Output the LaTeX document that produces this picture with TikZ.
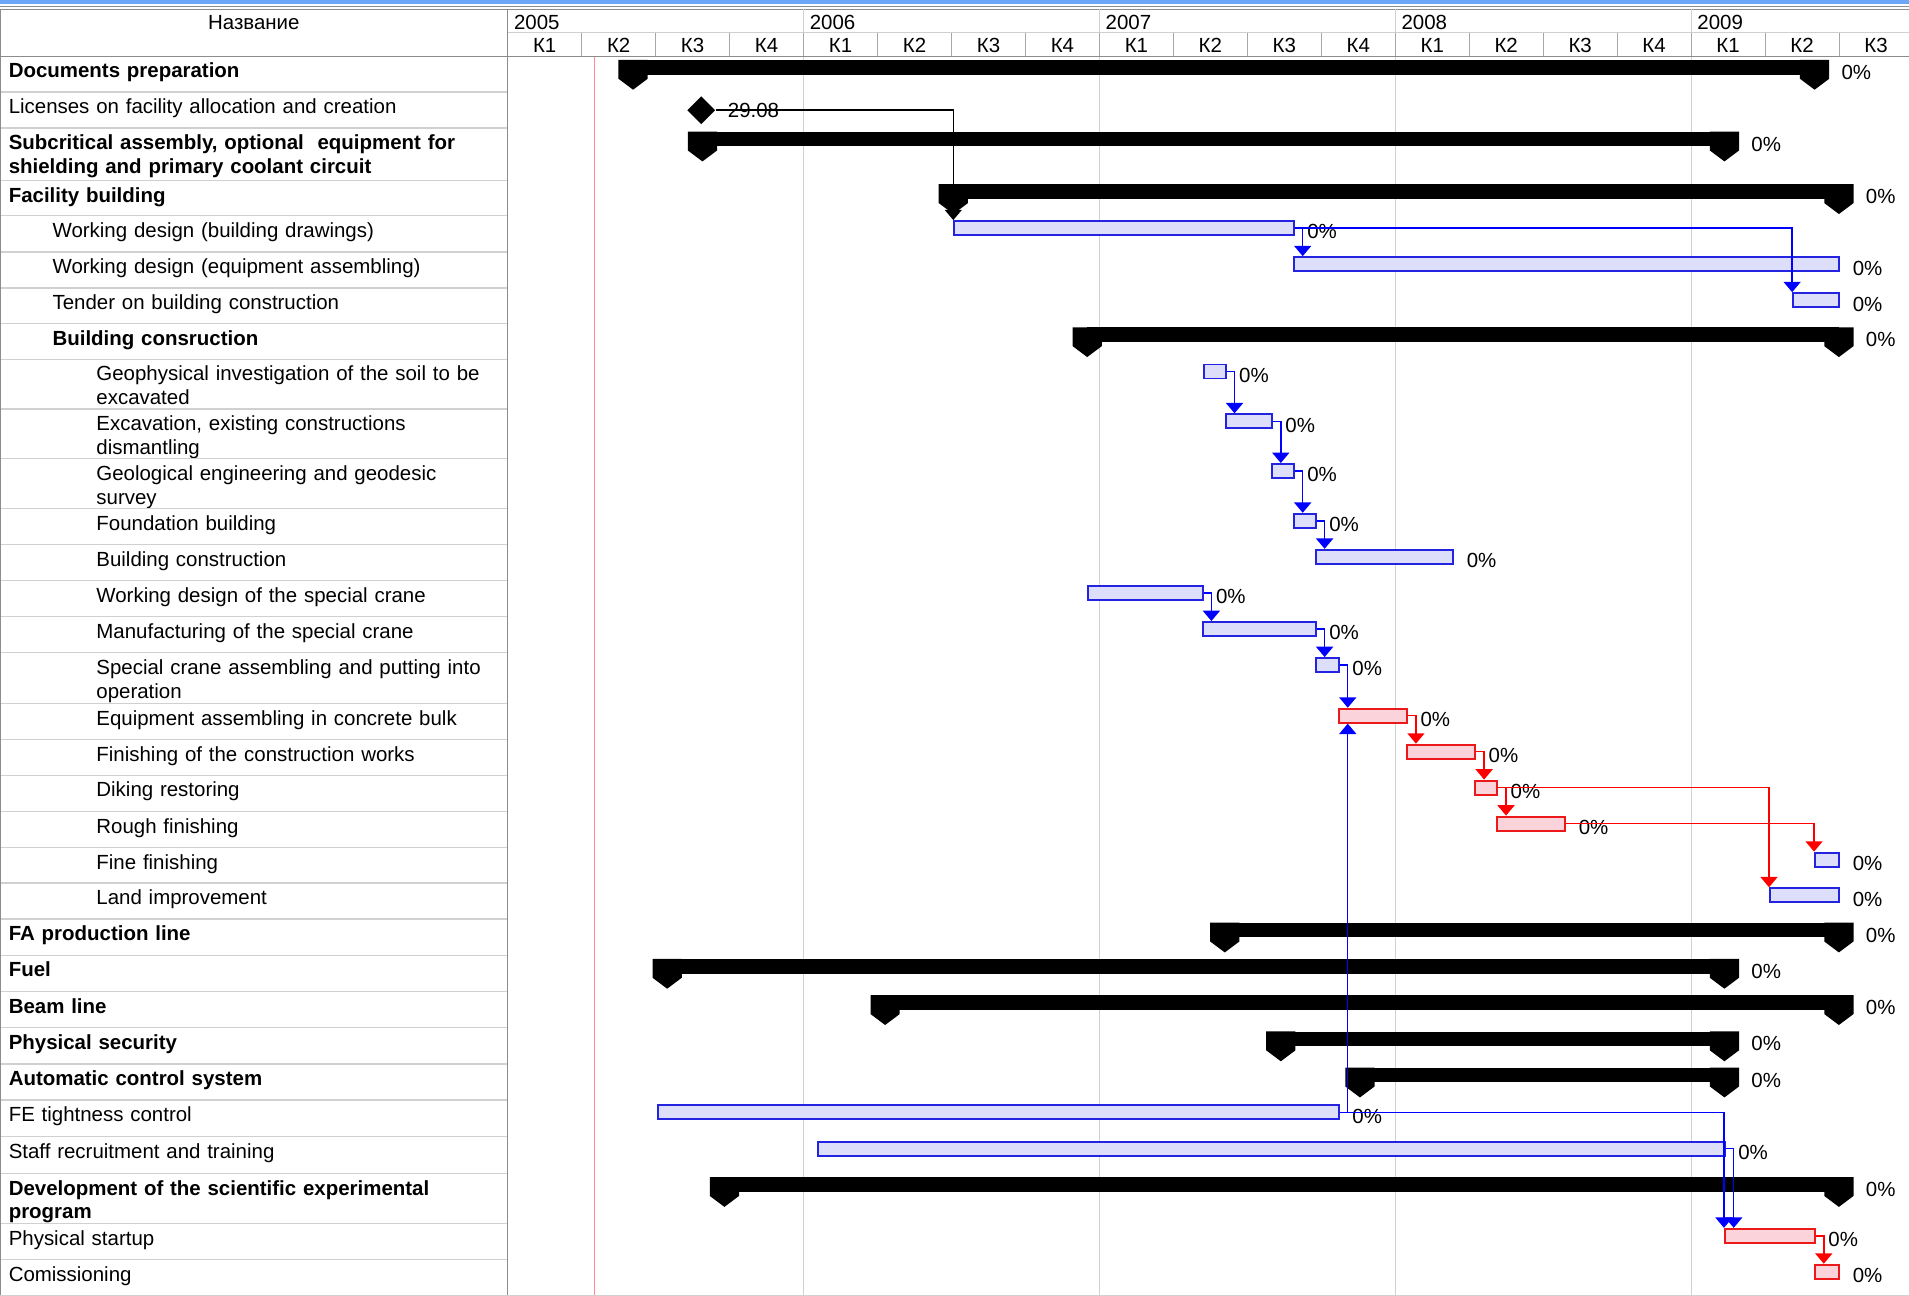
\documentclass[tikz,border=0pt]{standalone}
\usepackage{fontspec}
\setmainfont{Liberation Sans}
\usetikzlibrary{arrows.meta}
\usetikzlibrary{positioning}
\usetikzlibrary{shapes.geometric}

\definecolor{bandblue}{RGB}{108,166,246}
\definecolor{linegray}{RGB}{140,140,140}
\definecolor{gridgray}{RGB}{208,208,208}
\definecolor{taskblue}{RGB}{35,35,225}
\definecolor{taskbluefill}{RGB}{220,222,250}
\definecolor{taskred}{RGB}{235,25,25}
\definecolor{taskredfill}{RGB}{250,212,218}

\tikzset{
  txt/.style={font=\fontsize{16.8}{19.5}\selectfont, inner sep=0pt},
  tsk/.style={txt, anchor=base west, text width=405pt, align=left},
  grp/.style={tsk, font=\fontsize{16.8}{19.5}\selectfont\bfseries},
  bluebar/.style={draw=taskblue, fill=taskbluefill, line width=1.6pt, inner sep=0pt, minimum height=11.5pt, anchor=north west},
  redbar/.style={bluebar, draw=taskred, fill=taskredfill},
  sumbar/.style={fill=black, inner sep=0pt, minimum height=12pt, anchor=north west},
  pct/.style={txt, anchor=base west},
  milestone/.style={diamond, fill=black, inner sep=0pt, minimum width=23pt, minimum height=23pt},
  blacklink/.style={draw=black, line width=1.2pt, -{Triangle[width=14pt,length=8.5pt]}},
  bluelink/.style={blacklink, draw=blue},
  redlink/.style={blacklink, draw=red}
}

\begin{document}
\begin{tikzpicture}[x=1pt, y=-1pt]
        \useasboundingbox (0,0) rectangle (1568,1064);
        \fill[bandblue] (0,0) rectangle (1568,3.5);
        \draw[linegray, line width=1pt] (0,5.2) -- (1568,5.2);
        \draw[linegray] (0,7.8) -- (1568,7.8);
        \node[txt, anchor=base] (title) at (208.5,24) {Название};
        \foreach \i/\yr in {0/2005,1/2006,2/2007,3/2008,4/2009}
            \node[txt, anchor=base west] (yr\yr) at (422+243*\i,24) {\yr};
        \foreach \i in {1,...,4}
            \draw[gridgray] (417+243*\i,7.8) -- (417+243*\i,1064);
        \draw[gridgray] (417,26.8) -- (1568,26.8);
        \foreach \q in {0,...,18} {
            \pgfmathtruncatemacro\k{mod(\q,4)+1}
            \node[txt, anchor=base] (kv\q) at (447.4+60.75*\q,43) {К\k};
            \draw[gridgray!80!black] (417+60.75*\q,26.8) -- (417+60.75*\q,46.2);
        }
        \draw[red!45, line width=0.8pt] (488,46.2) -- (488,1064);
        \foreach \r/\y/\x/\s/\t in {
            1/46.2/7/grp/{Documents preparation},
            2/75.5/7/tsk/{Licenses on facility allocation and creation},
            3/105.1/7/grp/{Subcritical assembly, optional~ equipment for\\shielding and primary coolant circuit},
            4/148.3/7/grp/{Facility building},
            5/177.3/43/tsk/{Working design (building drawings)},
            6/206.9/43/tsk/{Working design (equipment assembling)},
            7/236.5/43/tsk/{Tender on building construction},
            8/265.8/43/grp/{Building consruction},
            9/295.1/79/tsk/{Geophysical investigation of the soil to be\\excavated},
            10/336.0/79/tsk/{Excavation, existing constructions\\dismantling},
            11/376.8/79/tsk/{Geological engineering and geodesic\\survey},
            12/417.7/79/tsk/{Foundation building},
            13/447.3/79/tsk/{Building construction},
            14/476.9/79/tsk/{Working design of the special crane},
            15/506.6/79/tsk/{Manufacturing of the special crane},
            16/536.2/79/tsk/{Special crane assembling and putting into\\operation},
            17/577.8/79/tsk/{Equipment assembling in concrete bulk},
            18/607.3/79/tsk/{Finishing of the construction works},
            19/636.8/79/tsk/{Diking restoring},
            20/666.4/79/tsk/{Rough finishing},
            21/696.0/79/tsk/{Fine finishing},
            22/725.3/79/tsk/{Land improvement},
            23/754.8/7/grp/{FA production line},
            24/784.6/7/grp/{Fuel},
            25/814.4/7/grp/{Beam line},
            26/844.2/7/grp/{Physical security},
            27/873.9/7/grp/{Automatic control system},
            28/903.5/7/tsk/{FE tightness control},
            29/933.4/7/tsk/{Staff recruitment and training},
            30/963.8/7/grp/{Development of the scientific experimental\\program},
            31/1005.0/7/tsk/{Physical startup},
            32/1034.5/7/tsk/{Comissioning}} {
            \draw[gridgray, line width=1pt] (0,\y) -- (417,\y);
            \node[\s] (n\r) at (\x,\y+17.8) {\t};
        }
        \draw[linegray, line width=1.2pt] (0,46.2) -- (1568,46.2);
        \draw[linegray, line width=1.2pt] (417,7.8) -- (417,1064);
        \draw[linegray] (0.5,7.8) -- (0.5,1064);
        \draw[gridgray] (0,1063.5) -- (1568,1063.5);
        \foreach \r/\y/\a/\b in {1/46.2/520/1490, 3/105.1/577/1416, 4/148.3/783/1510,
            8/265.8/893/1510, 23/754.8/1006/1510, 24/784.6/548/1416, 25/814.4/727/1510,
            26/844.2/1052/1416, 27/873.9/1117/1416, 30/963.8/595/1510} {
            \node[sumbar, minimum width={(\b-\a)*1pt}] (s\r) at (\a,\y+3) {};
            \fill (s\r.north west) ++(-12,0) -- ++(24,0) -- ++(0,15.5) -- ++(-12,9) -- ++(-12,-9) -- cycle;
            \fill (s\r.north east) ++(-12,0) -- ++(24,0) -- ++(0,15.5) -- ++(-12,9) -- ++(-12,-9) -- cycle;
            \node[pct] (ps\r) at ([shift={(22,16)}]s\r.north east) {0\%};
        }
        \foreach \r/\y/\a/\b/\c in {5/177.3/783/1062/bluebar, 6/206.9/1062/1510/bluebar,
            7/236.5/1472/1510/bluebar, 9/295.1/988/1006/bluebar, 10/336.0/1006/1044/bluebar,
            11/376.8/1044/1062/bluebar, 12/417.7/1062/1080/bluebar, 13/447.3/1080/1193/bluebar,
            14/476.9/893/987/bluebar, 15/506.6/987/1080/bluebar, 16/536.2/1080/1099/bluebar,
            17/577.8/1099/1155/redbar, 18/607.3/1155/1211/redbar, 19/636.8/1211/1229/redbar,
            20/666.4/1229/1285/redbar, 21/696.0/1490/1510/bluebar, 22/725.3/1453/1510/bluebar,
            28/903.5/540/1099/bluebar, 29/933.4/671/1416/bluebar, 31/1005.0/1416/1490/redbar,
            32/1034.5/1490/1510/redbar} {
            \node[\c, minimum width={(\b-\a)*1pt}] (t\r) at (\a,\y+3.5) {};
            \node[pct] (p\r) at ([shift={(10,15.5)}]t\r.north east) {0\%};
        }
        \node[milestone] (m2) at (576,90.5) {};
        \node[txt, right=10pt of m2] (d2) {29.08};
        \draw[blacklink] (m2.east) -| (t5.north west);
        \draw[bluelink] (t5.east) -| (t7.north west);
        \draw[redlink] (t19.east) -| (t22.north west);
        \draw[redlink] (t20.east) -| (t21.north west);
        \draw[bluelink] (t28.east) -| (t31.north west);
        \draw[bluelink] (t28.east) -| ([xshift=8pt]t17.south west);
        \foreach \u/\v/\l in {5/6/bluelink, 9/10/bluelink, 10/11/bluelink, 11/12/bluelink,
            12/13/bluelink, 14/15/bluelink, 15/16/bluelink, 16/17/bluelink, 17/18/redlink,
            18/19/redlink, 19/20/redlink, 29/31/bluelink, 31/32/redlink}
            \draw[\l] (t\u.east) -| ([xshift=8pt]t\v.north west);
    \end{tikzpicture}
\end{document}
